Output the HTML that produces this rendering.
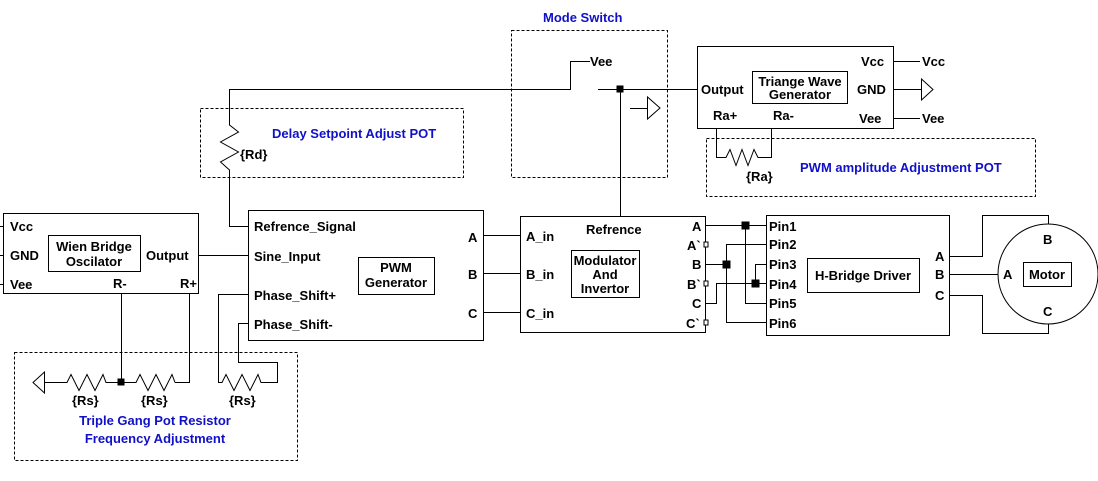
<!DOCTYPE html>
<html><head><meta charset="utf-8"><style>
html,body{margin:0;padding:0;background:#fff;}
svg{display:block;}
text{font-family:"Liberation Sans",Arial,sans-serif;font-weight:bold;font-size:13px;fill:#000;}
.b{fill:#1010c8;}
</style></head><body>
<svg width="1098" height="481" viewBox="0 0 1098 481" xmlns="http://www.w3.org/2000/svg">
<g fill="none" stroke="#000" stroke-width="1">
<!-- dashed boxes -->
<g stroke-dasharray="3,2">
<rect x="14.5" y="352.5" width="283" height="108"/>
<rect x="200.5" y="108.5" width="263" height="69"/>
<rect x="511.5" y="30.5" width="156" height="147"/>
<rect x="706.5" y="138.5" width="329" height="58"/>
</g>
<!-- Wien box -->
<rect x="3.5" y="213.5" width="195" height="80"/>
<rect x="48.5" y="235.5" width="92" height="36"/>
<path d="M0 226.5H3M0 255.5H3M0 284.5H3"/>
<path d="M198 255.5H248"/>
<path d="M121.5 293V382M189.5 293V382.5H175"/>
<!-- ground left -->
<path d="M44.5 372V393L33 382.5Z"/>
<path d="M44 382.5H67l4 -8 8 16 8 -16 8 16 8 -16 3 8H136l4 -8 8 16 8 -16 8 16 8 -16 3 8"/>
<rect x="118" y="379" width="6" height="6" fill="#000"/>
<!-- third resistor -->
<path d="M248 294.5H218.5V382.5H222l4 -8 8 16 8 -16 8 16 8 -16 3 8H277.5V362.5H238.5V323.5H248"/>
<!-- PWM box -->
<rect x="248.5" y="210.5" width="235" height="130"/>
<rect x="358.5" y="257.5" width="76" height="37"/>
<path d="M483 235.5H520M483 273.5H520M483 312.5H520"/>
<!-- Reference signal / Rd -->
<path d="M248 226.5H229.5V170l-9 -8 18 -10 -18 -10 18 -10 -9 -7V89.5H570.5V61.5H590"/>
<!-- switch -->
<path d="M598 89.5H697M620.5 89V216"/>
<rect x="617" y="86" width="6" height="6" fill="#000"/>
<path d="M630 108.5H647M647.5 97V119L660 108Z"/>
<!-- Triangle box -->
<rect x="697.5" y="46.5" width="196" height="82"/>
<rect x="752.5" y="71.5" width="95" height="32"/>
<path d="M893 61.5H920M893 89.5H921M893 118.5H920"/>
<path d="M921.5 79V100L933 89.5Z"/>
<path d="M716.5 128V157.5H726l4 -8 6 16 6 -16 6 16 6 -16 4 8H771.5V128"/>
<!-- Modulator -->
<rect x="520.5" y="216.5" width="185" height="116"/>
<rect x="571.5" y="250.5" width="68" height="47"/>
<rect x="704" y="242" width="4" height="5" fill="#fff"/>
<rect x="704" y="281" width="4" height="5" fill="#fff"/>
<rect x="704" y="320" width="4" height="5" fill="#fff"/>
<!-- wiring -->
<path d="M706 225.5H766M745.5 225.5V303.5H766"/>
<path d="M766 244.5H726.5V322.5H766M706 264.5H726"/>
<path d="M766 264.5H755.5V283.5M706 303.5H716.5V283.5H766"/>
<rect x="742" y="222" width="7" height="7" fill="#000"/>
<rect x="723" y="261" width="7" height="7" fill="#000"/>
<rect x="752" y="280" width="7" height="7" fill="#000"/>
<!-- H bridge -->
<rect x="766.5" y="215.5" width="183" height="120"/>
<rect x="807.5" y="258.5" width="112" height="34"/>
<!-- motor -->
<circle cx="1048" cy="274" r="50"/>
<rect x="1023.5" y="262.5" width="48" height="24"/>
<path d="M949 256.5H982.5V215.5H1048.5V224M949 274.5H998M949 295.5H982.5V333.5H1048.5V324"/>
</g>
<!-- texts -->
<text x="10" y="231">Vcc</text><text x="10" y="260">GND</text><text x="10" y="289">Vee</text>
<text x="94" y="251" text-anchor="middle">Wien Bridge</text><text x="94" y="266" text-anchor="middle">Oscilator</text>
<text x="146" y="260">Output</text><text x="113" y="288">R-</text><text x="180" y="288">R+</text>
<text x="72" y="405">{Rs}</text><text x="141" y="405">{Rs}</text><text x="229" y="405">{Rs}</text>
<text class="b" x="155" y="425" text-anchor="middle">Triple Gang Pot Resistor</text>
<text class="b" x="155" y="443" text-anchor="middle">Frequency Adjustment</text>
<text x="254" y="231">Refrence_Signal</text><text x="254" y="261">Sine_Input</text>
<text x="254" y="300">Phase_Shift+</text><text x="254" y="329">Phase_Shift-</text>
<text x="396" y="272" text-anchor="middle">PWM</text><text x="396" y="287" text-anchor="middle">Generator</text>
<text x="468" y="242">A</text><text x="468" y="279">B</text><text x="468" y="318">C</text>
<text x="240" y="159">{Rd}</text>
<text class="b" x="272" y="138">Delay Setpoint Adjust POT</text>
<text class="b" x="543" y="22">Mode Switch</text>
<text x="590" y="66">Vee</text>
<text x="701" y="94">Output</text>
<text x="800" y="86" text-anchor="middle">Triange Wave</text><text x="800" y="99" text-anchor="middle">Generator</text>
<text x="861" y="66">Vcc</text><text x="857" y="94">GND</text><text x="859" y="123">Vee</text>
<text x="922" y="66">Vcc</text><text x="922" y="123">Vee</text>
<text x="713" y="120">Ra+</text><text x="773" y="120">Ra-</text>
<text x="746" y="181">{Ra}</text>
<text class="b" x="800" y="172">PWM amplitude Adjustment POT</text>
<text x="526" y="241">A_in</text><text x="526" y="279">B_in</text><text x="526" y="318">C_in</text>
<text x="586" y="234">Refrence</text>
<text x="605" y="265" text-anchor="middle">Modulator</text><text x="605" y="279" text-anchor="middle">And</text><text x="605" y="293" text-anchor="middle">Invertor</text>
<text x="692" y="231">A</text><text x="687" y="250">A`</text><text x="692" y="269">B</text><text x="687" y="289">B`</text><text x="692" y="308">C</text><text x="686" y="328">C`</text>
<text x="769" y="231">Pin1</text><text x="769" y="249">Pin2</text><text x="769" y="269">Pin3</text><text x="769" y="289">Pin4</text><text x="769" y="308">Pin5</text><text x="769" y="328">Pin6</text>
<text x="863" y="280" text-anchor="middle">H-Bridge Driver</text>
<text x="935" y="261">A</text><text x="935" y="279">B</text><text x="935" y="300">C</text>
<text x="1043" y="244">B</text><text x="1003" y="279">A</text><text x="1043" y="316">C</text>
<text x="1047" y="279" text-anchor="middle">Motor</text>
</svg>
</body></html>
